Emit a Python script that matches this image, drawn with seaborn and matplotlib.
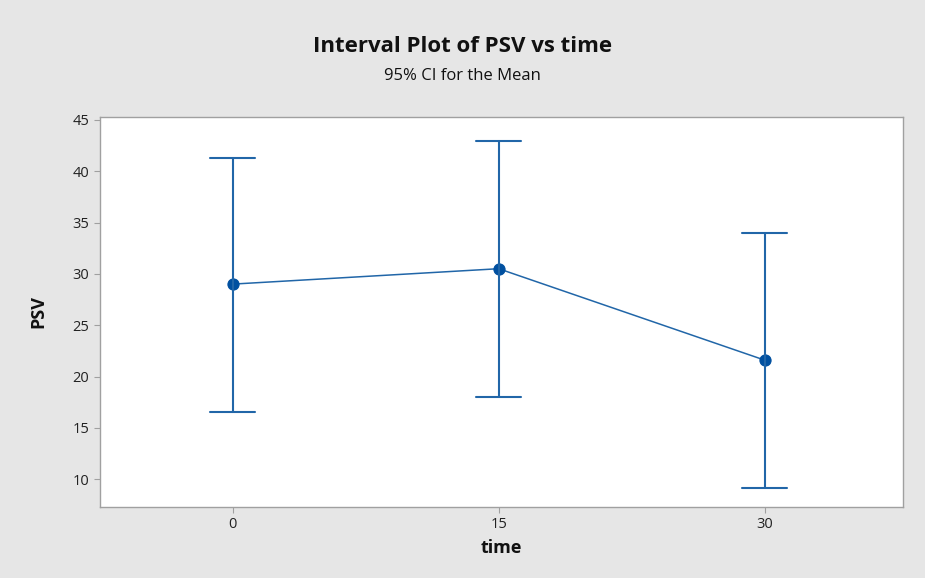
import matplotlib
matplotlib.use("Agg")
import matplotlib.pyplot as plt
import seaborn as sns
import pandas as pd

# Data
times = ["0", "15", "30"]
means = [29.0, 30.5, 21.6]
lower = [16.5, 18.0, 9.1]
upper = [41.3, 42.9, 34.0]
yticks = [10, 15, 20, 25, 30, 35, 40, 45]

rows = []
for t, lo, m, hi in zip(times, lower, means, upper):
    for v in (lo, m, hi):
        rows.append({"time": t, "PSV": v})
df = pd.DataFrame(rows)

sns.set_theme(style="white")
plt.rcParams["font.family"] = ["Open Sans", "DejaVu Sans"]

fig = plt.figure(figsize=(9.25, 5.78), dpi=100)
fig.patch.set_facecolor("#e6e6e6")
ax = fig.add_axes([0.108, 0.123, 0.868, 0.675])
ax.set_facecolor("white")

line_color = "#2166a8"
sns.pointplot(data=df, x="time", y="PSV", order=times,
              estimator="median", errorbar=("pi", 100),
              color=line_color, capsize=0.17, linewidth=1.1,
              err_kws={"linewidth": 1.5}, markersize=8, ax=ax)

for ln in ax.lines:
    if ln.get_marker() not in (None, "None", "", " "):
        ln.set_markerfacecolor("#0050a0")
        ln.set_markeredgecolor("#0050a0")

ax.set_xlim(-0.5, 2.52)
ax.set_ylim(7.3, 45.3)
ax.set_yticks(yticks)
ax.set_yticklabels([str(v) for v in yticks])

for s in ax.spines.values():
    s.set_color("#a0a0a0")
    s.set_linewidth(1.0)

ax.tick_params(axis="both", which="major", direction="out", length=4,
               width=0.8, color="#a0a0a0", labelsize=10.5, labelcolor="#222222",
               left=True, bottom=True)
ax.set_xlabel("time", fontsize=13, fontweight="bold", color="#111111", labelpad=5)
ax.set_ylabel("PSV", fontsize=13, fontweight="bold", color="#111111", labelpad=18)

fig.text(0.5, 0.919, "Interval Plot of PSV vs time", ha="center", va="center",
         fontsize=16, fontweight="bold", color="#111111")
fig.text(0.5, 0.869, "95% CI for the Mean", ha="center", va="center",
         fontsize=12, color="#111111")

fig.savefig("out.png", dpi=100, facecolor=fig.get_facecolor())
